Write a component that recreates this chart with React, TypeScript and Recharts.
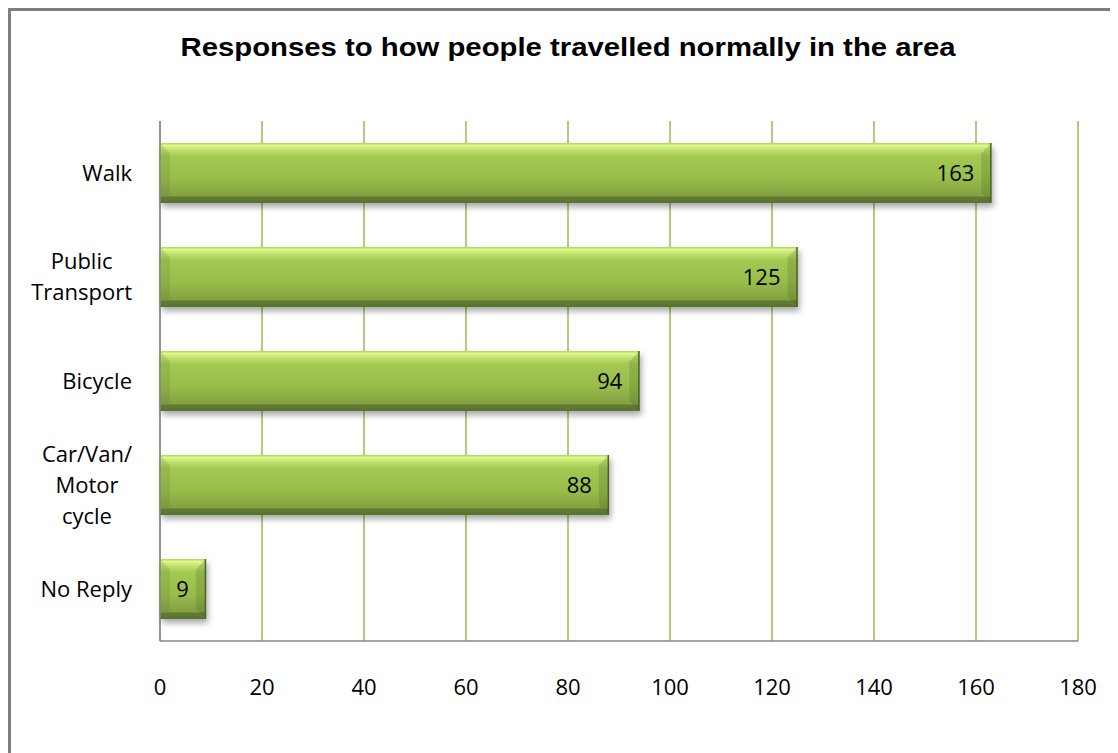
import React from "react";
import { BarChart, Bar, XAxis, YAxis, CartesianGrid, LabelList } from "recharts";

const titleText = "Responses to how people travelled normally in the area";
const categories = ["Walk", "Public\nTransport", "Bicycle", "Car/Van/\nMotor\ncycle", "No Reply"];
const values = [163, 125, 94, 88, 9];
const xTicks = [0, 20, 40, 60, 80, 100, 120, 140, 160, 180];

const data = categories.map((c, i) => ({ name: c, value: values[i] }));

const FONT = "'Open Sans', Lato, sans-serif";
const FS = 22;

let measureCtx: CanvasRenderingContext2D | null = null;
function measure(text: string): number {
  if (typeof document === "undefined") return text.length * FS * 0.5;
  if (!measureCtx) {
    const c = document.createElement("canvas");
    measureCtx = c.getContext("2d");
  }
  if (!measureCtx) return text.length * FS * 0.5;
  measureCtx.font = `${FS}px 'Open Sans'`;
  return measureCtx.measureText(text).width;
}

const YTick = (props: any) => {
  const { x, y, payload } = props;
  const lines: string[] = String(payload.value).split("\n");
  const maxW = Math.max(...lines.map(measure));
  const right = x - 28;
  const cx = right - maxW / 2;
  const lh = 31;
  const startY = y - ((lines.length - 1) * lh) / 2;
  return (
    <text x={cx} y={startY} textAnchor="middle" fontFamily={FONT} fontSize={FS} fill="#000">
      {lines.map((l, i) => (
        <tspan key={i} x={cx} y={startY + i * lh} dy="0.35em">
          {l}
        </tspan>
      ))}
    </text>
  );
};

const XTick = (props: any) => {
  const { x, y, payload } = props;
  return (
    <text x={x} y={y + 46} dy="0.35em" textAnchor="middle" fontFamily={FONT} fontSize={FS} fill="#000">
      {payload.value}
    </text>
  );
};

const BevelBar = (props: any) => {
  const { x, y, width, height, index } = props;
  if (!width || width <= 0) return null;
  const gid = `g${index}`;
  const fid = `f${index}`;
  const b = Math.min(10, width / 3);
  return (
    <g>
      <defs>
        <linearGradient id={gid} x1="0" y1="0" x2="0" y2="1">
          <stop offset="0" stopColor="#b2d162" />
          <stop offset="0.04" stopColor="#dcf88e" />
          <stop offset="0.12" stopColor="#c0e16c" />
          <stop offset="0.22" stopColor="#a4c952" />
          <stop offset="0.6" stopColor="#98bb4b" />
          <stop offset="0.88" stopColor="#82a040" />
          <stop offset="0.9" stopColor="#627c34" />
          <stop offset="1" stopColor="#5a722f" />
        </linearGradient>
        <filter id={fid} x="-20%" y="-20%" width="140%" height="160%">
          <feGaussianBlur stdDeviation="3" />
        </filter>
      </defs>
      <rect x={x + 2} y={y + 4} width={width} height={height} fill="rgba(0,0,0,0.35)" filter={`url(#${fid})`} />
      <rect x={x} y={y} width={width} height={height} fill={`url(#${gid})`} />
      <polygon
        points={`${x},${y} ${x + b},${y + b} ${x + b},${y + height - b} ${x},${y + height}`}
        fill="rgba(90,120,40,0.18)"
      />
      <polygon
        points={`${x + width},${y} ${x + width - b},${y + b} ${x + width - b},${y + height - b} ${x + width},${y + height}`}
        fill="rgba(70,100,30,0.22)"
      />
      <line x1={x + width - b} y1={y + b} x2={x + width} y2={y} stroke="rgba(200,230,120,0.6)" strokeWidth={1} />
      <line x1={x + width - 0.5} y1={y} x2={x + width - 0.5} y2={y + height} stroke="#4c6526" strokeWidth={1.5} />
    </g>
  );
};

export default function App() {
  return (
    <div
      style={{
        position: "relative",
        width: 1110,
        height: 745,
        borderTop: "3px solid #7f7f7f",
        borderLeft: "3px solid #7f7f7f",
        boxSizing: "border-box",
        background: "#fff",
        overflow: "hidden",
      }}
    >
      <svg width={1107} height={80} style={{ position: "absolute", left: 0, top: 0 }}>
        <text
          x={557}
          y={45}
          textAnchor="middle"
          fontFamily="'Liberation Sans', Arial, sans-serif"
          fontWeight="bold"
          fontSize={26}
          textLength={775}
          lengthAdjust="spacingAndGlyphs"
          fill="#000"
        >
          {titleText}
        </text>
      </svg>
      <div style={{ position: "absolute", left: 0, top: 0 }}>
        <BarChart
          width={1107}
          height={742}
          data={data}
          layout="vertical"
          margin={{ top: 110, right: 40, bottom: 52, left: 0 }}
          barSize={60}
        >
          <CartesianGrid horizontal={false} stroke="#98bb52" strokeWidth={1.5} />
          <XAxis
            type="number"
            domain={[0, 180]}
            ticks={xTicks}
            interval={0}
            tickLine={false}
            tickSize={0}
            tickMargin={0}
            axisLine={{ stroke: "#868686", strokeWidth: 1.5 }}
            tick={<XTick />}
            height={60}
          />
          <YAxis
            type="category"
            dataKey="name"
            width={149}
            tickLine={false}
            tickSize={0}
            tickMargin={0}
            axisLine={{ stroke: "#868686", strokeWidth: 1.5 }}
            tick={<YTick />}
            interval={0}
          />
          <Bar dataKey="value" shape={<BevelBar />} isAnimationActive={false}>
            <LabelList
              dataKey="value"
              position="insideRight"
              offset={17}
              fill="#000"
              fontFamily={FONT}
              fontSize={FS}
            />
          </Bar>
        </BarChart>
      </div>
    </div>
  );
}
